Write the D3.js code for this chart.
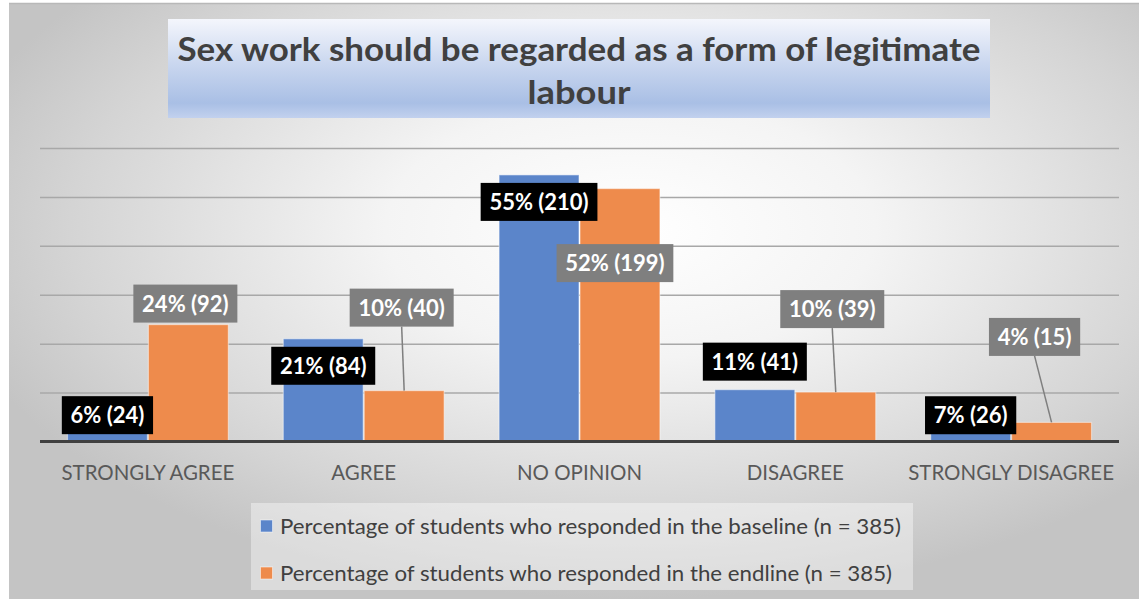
<!DOCTYPE html>
<html>
<head>
<meta charset="utf-8">
<script src="https://cdn.jsdelivr.net/npm/d3@7"></script>
<style>
  html, body { margin: 0; padding: 0; background: #ffffff; }
  svg { display: block; }
  text { font-family: Lato, "Open Sans", sans-serif; }
</style>
</head>
<body>
<svg id="chart" width="1139" height="599"></svg>
<script>
// Survey responses: "Sex work should be regarded as a form of legitimate labour"
const categories = ["STRONGLY AGREE", "AGREE", "NO OPINION", "DISAGREE", "STRONGLY DISAGREE"];
const seriesNames = [
  "Percentage of students who responded in the baseline (n = 385)",
  "Percentage of students who responded in the endline (n = 385)"
];
// percentage of respondents per category
const baselinePct = [6.2, 21.0, 54.5, 10.6, 6.8];
const endlinePct  = [23.9, 10.4, 51.7, 10.1, 3.9];
// number of respondents per category
const baselineCount = [24, 84, 210, 41, 26];
const endlineCount  = [92, 40, 199, 39, 15];
const yTicks = [10, 20, 30, 40, 50, 60];
const titleLines = ["Sex work should be regarded as a form of legitimate", "labour"];

const svg = d3.select("#chart");
const defs = svg.append("defs");

// chart area background: soft radial grey
const bg = defs.append("radialGradient").attr("id", "bgGrad")
  .attr("cx", 0.55).attr("cy", 0.38).attr("r", 0.62);
bg.append("stop").attr("offset", "0%").attr("stop-color", "#ffffff");
bg.append("stop").attr("offset", "35%").attr("stop-color", "#f4f4f4");
bg.append("stop").attr("offset", "80%").attr("stop-color", "#d4d4d4");
bg.append("stop").attr("offset", "100%").attr("stop-color", "#c4c4c4");

const tg = defs.append("linearGradient").attr("id", "titleGrad")
  .attr("x1", 0).attr("y1", 0).attr("x2", 0).attr("y2", 1);
tg.append("stop").attr("offset", "0%").attr("stop-color", "#f4f6fc");
tg.append("stop").attr("offset", "45%").attr("stop-color", "#cad7ef");
tg.append("stop").attr("offset", "85%").attr("stop-color", "#a9bfe5");
tg.append("stop").attr("offset", "100%").attr("stop-color", "#c2d1ee");

svg.append("rect").attr("x", 9).attr("y", 3).attr("width", 1130).attr("height", 596)
  .attr("fill", "url(#bgGrad)");
svg.append("line").attr("x1", 9).attr("x2", 1139).attr("y1", 3.5).attr("y2", 3.5)
  .attr("stroke", "#b8b8b8").attr("stroke-width", 1.5);

// helper: squeeze or stretch a text to a given width
function fitWidth(sel, w) {
  sel.attr("textLength", w).attr("lengthAdjust", "spacingAndGlyphs");
}
function scaleWidth(sel, f) {
  sel.each(function () {
    const n = this.getComputedTextLength();
    d3.select(this).attr("textLength", n * f).attr("lengthAdjust", "spacingAndGlyphs");
  });
}

// title box
svg.append("rect").attr("x", 168).attr("y", 19).attr("width", 822).attr("height", 99)
  .attr("fill", "url(#titleGrad)");
const titleWidths = [803, 103];
titleLines.forEach((t, i) => {
  const tx = svg.append("text").attr("x", 579).attr("y", 61 + i * 43)
    .attr("text-anchor", "middle").attr("font-size", 32).attr("font-weight", 700)
    .attr("fill", "#404040").text(t);
  fitWidth(tx, titleWidths[i]);
});

// scales
const plotLeft = 40, plotRight = 1119, plotTop = 148, plotBottom = 441.5;
const x0 = d3.scaleBand().domain(categories).range([plotLeft, plotRight])
  .paddingInner(0.25).paddingOuter(0.125);
const x1 = d3.scaleBand().domain([0, 1]).range([0, x0.bandwidth()]).padding(0);
const y = d3.scaleLinear().domain([0, 60]).range([plotBottom, plotTop]);

// gridlines
const grid = d3.axisLeft(y).tickValues(yTicks).tickSize(-(plotRight - plotLeft)).tickFormat("");
const gg = svg.append("g").attr("transform", `translate(${plotLeft},0)`).call(grid);
gg.select(".domain").remove();
gg.selectAll(".tick line").attr("stroke", "#a8a8a8").attr("stroke-width", 1.5);

// bars
const colors = ["#5b85ca", "#ee8b4c"];
const series = [baselinePct, endlinePct];
const counts = [baselineCount, endlineCount];
series.forEach((vals, s) => {
  svg.append("g").selectAll("rect").data(vals).join("rect")
    .attr("x", (d, i) => x0(categories[i]) + x1(s) + 0.5)
    .attr("width", x1.bandwidth() - 1)
    .attr("y", d => y(d))
    .attr("height", d => plotBottom - y(d))
    .attr("fill", colors[s])
    .attr("stroke", "rgba(255,255,255,0.45)").attr("stroke-width", 1.2);
});

// category axis
const xAxis = d3.axisBottom(x0).tickSize(0).tickPadding(0);
const ax = svg.append("g").attr("transform", `translate(0,${plotBottom})`).call(xAxis);
ax.select(".domain").remove();
ax.selectAll(".tick text").attr("y", 38.5).attr("dy", 0)
  .attr("font-size", 21).attr("fill", "#595959")
  .attr("font-family", 'Lato, "Open Sans", sans-serif');
scaleWidth(ax.selectAll(".tick text"), 0.975);
svg.append("line").attr("x1", plotLeft).attr("x2", plotRight)
  .attr("y1", plotBottom).attr("y2", plotBottom)
  .attr("stroke", "#404040").attr("stroke-width", 3);

// data labels: box centre offset from the top-centre of each bar
const labelShift = [
  [[0, 4], [0, 27], [0, 27], [0, -28], [0, 7]],
  [[-3, -21], [-2.5, -83], [-5, 74.5], [-3.5, -83], [-17, -85.5]]
];
const leader = [
  [false, false, false, false, false],
  [false, true, false, true, true]
];
const boxFill = ["#000000", "#7f7f7f"];
const labelLayer = svg.append("g");
series.forEach((vals, s) => {
  vals.forEach((v, i) => {
    const bx = x0(categories[i]) + x1(s) + x1.bandwidth() / 2;
    const by = y(v);
    const cx = bx + labelShift[s][i][0];
    const cy = by + labelShift[s][i][1];
    const label = `${Math.round(v)}% (${counts[s][i]})`;
    if (leader[s][i]) {
      labelLayer.append("line").attr("x1", bx).attr("y1", by)
        .attr("x2", cx).attr("y2", cy + 19)
        .attr("stroke", "#7f7f7f").attr("stroke-width", 1.5);
    }
    const g = labelLayer.append("g");
    const rect = g.append("rect").attr("fill", boxFill[s]);
    const t = g.append("text").attr("x", cx).attr("y", cy + 8)
      .attr("text-anchor", "middle").attr("font-size", 22).attr("font-weight", 700)
      .attr("fill", "#ffffff").text(label);
    scaleWidth(t, 1.0);
    const w = +t.attr("textLength") + 17.5;
    rect.attr("x", cx - w / 2).attr("y", cy - 19).attr("width", w).attr("height", 38);
  });
});

// legend
svg.append("rect").attr("x", 251).attr("y", 503).attr("width", 662).attr("height", 87)
  .attr("fill", "#ffffff").attr("opacity", 0.4);
const legendWidths = [621, 612];
seriesNames.forEach((name, s) => {
  const ly = 526 + s * 47;
  svg.append("rect").attr("x", 260.5).attr("y", ly - 6).attr("width", 12).attr("height", 12)
    .attr("fill", colors[s]).attr("stroke", "rgba(255,255,255,0.5)");
  const t = svg.append("text").attr("x", 280).attr("y", ly + 7.5)
    .attr("font-size", 21).attr("fill", "#404040").text(name);
  fitWidth(t, legendWidths[s]);
});
</script>
</body>
</html>
